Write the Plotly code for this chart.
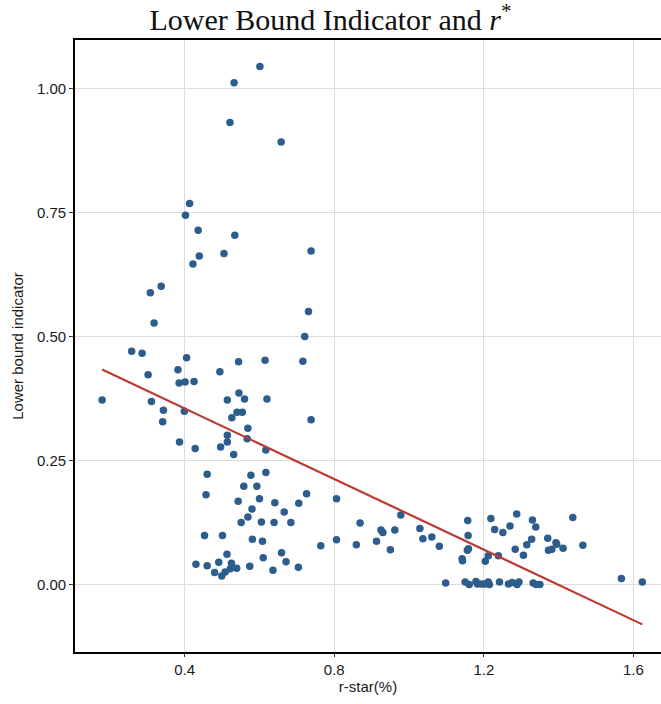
import numpy as np
import plotly.graph_objects as go

r_star = [
    0.601, 0.532, 0.521, 0.658, 0.413, 0.402, 0.436, 0.534, 0.738, 0.439,
    0.505, 0.422, 0.337, 0.308, 0.731, 0.318, 0.721, 0.258, 0.286, 0.405,
    0.544, 0.615, 0.716, 0.302, 0.382, 0.385, 0.401, 0.425, 0.494, 0.179,
    0.311, 0.514, 0.545, 0.560, 0.620, 0.343, 0.399, 0.341, 0.540, 0.554,
    0.526, 0.738, 0.569, 0.514, 0.514, 0.567, 0.386, 0.428, 0.496, 0.531,
    0.617, 0.460, 0.577, 0.617, 0.558, 0.593, 0.457, 0.600, 0.641, 0.543,
    0.580, 0.569, 0.551, 0.605, 0.639, 0.453, 0.501, 0.581, 0.608, 0.513,
    0.610, 0.430, 0.460, 0.491, 0.525, 0.574, 0.480, 0.499, 0.508, 0.522,
    0.539, 0.636, 0.666, 0.705, 0.726, 0.806, 0.684, 0.659, 0.671, 0.704,
    0.764, 0.806, 0.859, 0.869, 0.913, 0.925, 0.930, 0.950, 0.962, 0.978,
    1.029, 1.037, 1.061, 1.081, 1.098, 1.142, 1.143, 1.150, 1.161, 1.157,
    1.158, 1.156, 1.159, 1.179, 1.183, 1.194, 1.203, 1.212, 1.215, 1.204,
    1.212, 1.219, 1.229, 1.239, 1.242, 1.251, 1.266, 1.270, 1.276, 1.284,
    1.288, 1.289, 1.294, 1.306, 1.315, 1.328, 1.330, 1.339, 1.332, 1.340,
    1.350, 1.371, 1.373, 1.382, 1.393, 1.395, 1.412, 1.438, 1.465, 1.568,
    1.624,
]
lb_indicator = [
    1.044, 1.011, 0.931, 0.892, 0.768, 0.744, 0.714, 0.704, 0.672, 0.662,
    0.667, 0.646, 0.601, 0.588, 0.550, 0.527, 0.500, 0.470, 0.466, 0.457,
    0.449, 0.452, 0.450, 0.423, 0.433, 0.406, 0.408, 0.409, 0.429, 0.372,
    0.369, 0.372, 0.386, 0.374, 0.374, 0.351, 0.349, 0.328, 0.347, 0.347,
    0.336, 0.332, 0.315, 0.301, 0.287, 0.294, 0.287, 0.274, 0.277, 0.262,
    0.271, 0.222, 0.220, 0.226, 0.198, 0.198, 0.181, 0.173, 0.165, 0.168,
    0.152, 0.136, 0.125, 0.126, 0.125, 0.099, 0.099, 0.091, 0.087, 0.061,
    0.054, 0.041, 0.038, 0.045, 0.043, 0.037, 0.024, 0.017, 0.025, 0.032,
    0.033, 0.029, 0.146, 0.164, 0.183, 0.173, 0.125, 0.064, 0.046, 0.035,
    0.078, 0.090, 0.080, 0.124, 0.087, 0.110, 0.105, 0.070, 0.110, 0.140,
    0.113, 0.092, 0.096, 0.077, 0.003, 0.052, 0.048, 0.005, 0.000, 0.129,
    0.099, 0.069, 0.072, 0.006, 0.001, 0.001, 0.001, 0.005, 0.000, 0.047,
    0.058, 0.133, 0.111, 0.058, 0.005, 0.105, 0.001, 0.118, 0.004, 0.071,
    0.142, 0.000, 0.005, 0.059, 0.080, 0.091, 0.130, 0.116, 0.003, 0.000,
    0.000, 0.093, 0.069, 0.071, 0.084, 0.081, 0.073, 0.135, 0.079, 0.012,
    0.005,
]

# linear fit (intercept, slope)
fit_intercept = 0.497
fit_slope = -0.3555

x_ticks = [0.4, 0.8, 1.2, 1.6]
x_tick_labels = ["0.4", "0.8", "1.2", "1.6"]
y_ticks = [0.0, 0.25, 0.5, 0.75, 1.0]
y_tick_labels = ["0.00", "0.25", "0.50", "0.75", "1.00"]

x_arr = np.array(r_star)
fit_x = np.array([x_arr.min(), x_arr.max()])
fit_y = fit_intercept + fit_slope * fit_x

fig = go.Figure()
fig.add_trace(go.Scatter(
    x=r_star, y=lb_indicator, mode="markers",
    marker=dict(color="#2d5d8c", size=7.5, line=dict(width=0)),
    showlegend=False, hoverinfo="x+y",
))
fig.add_trace(go.Scatter(
    x=fit_x, y=fit_y, mode="lines",
    line=dict(color="#bb3a32", width=2.2),
    showlegend=False,
))

axis_font = dict(family="Liberation Sans, Arial, sans-serif", size=15, color="#1a1a1a")

fig.update_layout(
    width=661, height=704,
    margin=dict(l=75, r=0, t=40, b=52),
    paper_bgcolor="white", plot_bgcolor="white",
    title=dict(
        text="Lower Bound Indicator and <i>r</i><sup>*</sup>",
        x=0.5, xref="container", xanchor="center",
        y=0.972, yref="container", yanchor="middle",
        font=dict(family="Liberation Serif, Times New Roman, serif", size=30, color="#111"),
    ),
    xaxis=dict(
        range=[0.1065, 1.674],
        tickvals=x_ticks, ticktext=x_tick_labels,
        showgrid=True, gridcolor="#dcdcdc", gridwidth=1.2,
        showline=True, linecolor="black", linewidth=1.6, mirror=True,
        ticks="outside", ticklen=3, tickcolor="#333", tickwidth=1,
        tickfont=axis_font, zeroline=False,
        title=dict(text="r-star(%)", font=axis_font, standoff=5),
    ),
    yaxis=dict(
        range=[-0.136, 1.0974],
        tickvals=y_ticks, ticktext=y_tick_labels,
        showgrid=True, gridcolor="#dcdcdc", gridwidth=1.2,
        showline=True, linecolor="black", linewidth=1.6,
        ticks="outside", ticklen=4, tickcolor="#333", tickwidth=1,
        tickfont=axis_font, zeroline=False,
        title=dict(text="Lower bound indicator", font=axis_font, standoff=10),
    ),
)

fig.write_html("out.html")
